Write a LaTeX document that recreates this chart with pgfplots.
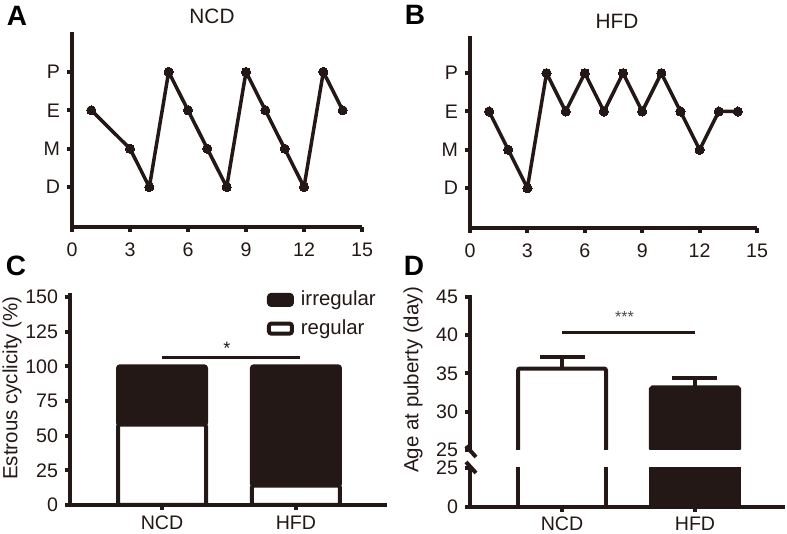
\documentclass[border=0pt]{standalone}
\usepackage{pgfplots}
\pgfplotsset{compat=1.18}
\usepackage{fontspec}
\setmainfont{Liberation Sans}
\definecolor{dk}{RGB}{35,24,21}
\pgfplotsset{
  base/.style={
    scale only axis,
    axis x line*=bottom, axis y line*=left,
    axis line style={line width=2bp, draw=dk, -},
    tick style={line width=2bp, draw=dk},
    tick align=outside,
    major tick length=2.5bp,
    tick label style={font=\fontsize{9.8bp}{11bp}\selectfont, text=dk},
    /pgf/number format/assume math mode=true,
  },
  barst/.style={line width=2bp, draw=dk, rounded corners=1bp,
    legend image code/.code={\draw[line width=2bp, rounded corners=1.2bp, ##1] (0bp,-2.5bp) rectangle (11.5bp,2.5bp);}},
  errst/.style={error bars/.cd, y dir=plus, y explicit,
    error bar style={line width=2bp, draw=dk, rounded corners=0pt},
    error mark options={rotate=90, line width=2bp, draw=dk, mark size=11.25bp}},
}
\begin{document}
\begin{tikzpicture}[x=0.5bp,y=0.5bp]
\path[use as bounding box] (0,0) rectangle (787,534);
\coordinate (pA) at (72,307);
\coordinate (pB) at (470,306);
\coordinate (pC) at (70,29);
\coordinate (pDu) at (470,84);
\coordinate (pDl) at (470,27);
% ---------- A
\begin{axis}[base, at={(pA)}, anchor=south west, width=145bp, height=97.5bp,
  xmin=0, xmax=15, ymin=-0.04, ymax=5.04,
  xticklabel style={yshift=-2bp},
  xtick={0,3,...,15}, ytick={1,2,3,4}, yticklabels={D,M,E,P}]
\addplot[dk, line width=1.75bp, line join=round, mark=*, mark size=2.3bp, mark options={fill=dk, draw=dk, line width=0pt}]
  coordinates {(1,3)(3,2)(4,1)(5,4)(6,3)(7,2)(8,1)(9,4)(10,3)(11,2)(12,1)(13,4)(14,3)};
\end{axis}
% ---------- B
\begin{axis}[base, at={(pB)}, anchor=south west, width=143.5bp, height=96bp,
  xmin=0, xmax=15, ymin=-0.04, ymax=4.97,
  xticklabel style={yshift=-2bp},
  xtick={0,3,...,15}, ytick={1,2,3,4}, yticklabels={D,M,E,P}]
\addplot[dk, line width=1.75bp, line join=round, mark=*, mark size=2.3bp, mark options={fill=dk, draw=dk, line width=0pt}]
  coordinates {(1,3)(2,2)(3,1)(4,4)(5,3)(6,4)(7,3)(8,4)(9,3)(10,4)(11,3)(12,2)(13,3)(14,3)};
\end{axis}
% ---------- C
\begin{axis}[base, at={(pC)}, anchor=south west, width=158.5bp, height=106bp,
  xmin=-0.687, xmax=1.68, ymin=0, ymax=152.9,
  xtick={0,1}, xticklabels={NCD,HFD}, ytick={0,25,...,150},
  xticklabel style={yshift=0.5bp},
  ybar stacked, bar width=0.657,
  reverse legend,
  legend style={draw=none, fill=none, at={(0.62,1.03)}, anchor=north west, inner sep=0pt,
    row sep=1.5bp, /tikz/column sep=1.5bp, font=\fontsize{10.2bp}{12bp}\selectfont, text=dk},
  legend cell align=left]
\addplot[barst, fill=white] coordinates {(0,58) (1,14)};
\addplot[barst, fill=dk] coordinates {(0,42) (1,86)};
\legend{regular, irregular}
\draw[dk, line width=1.5bp] (axis cs:0,106.7) -- (axis cs:1.03,106.7);
\node[text=dk, font=\fontsize{9bp}{10bp}\selectfont] at (axis cs:0.485,113) {*};
\end{axis}
% ---------- D upper
\begin{axis}[base, at={(pDu)}, anchor=south west, width=157.5bp, height=77.5bp,
  xmin=-0.692, xmax=1.677, ymin=25, ymax=45.26,
  axis x line=none, xtick=\empty, ytick={25,30,...,45},
  ybar, bar shift=0pt, bar width=0.662]
% NCD bar: invisible bar carrying the error bar, outline drawn as open line
\addplot[draw=none, fill=none, errst] coordinates {(0,35.65) +- (0,1.55)};
\addplot[sharp plot, dk, line width=2bp, rounded corners=1bp, mark=none]
  coordinates {(-0.331,20) (-0.331,35.65) (0.331,35.65) (0.331,20)};
\addplot[line width=2bp, draw=dk, fill=dk, rounded corners=0.8bp, errst]
  coordinates {(1,33.2) +- (0,1.2)};
\draw[dk, line width=1.6bp] (axis cs:0,40.4) -- (axis cs:1,40.4);
\node[text=dk!80, font=\fontsize{8bp}{9bp}\selectfont] at (axis cs:0.47,42.4) {***};
\end{axis}
% ---------- D lower
\begin{axis}[base, at={(pDl)}, anchor=south west, width=157.5bp, height=19.5bp,
  xmin=-0.692, xmax=1.677, ymin=0, ymax=25,
  xtick={0,1}, xticklabels={NCD,HFD}, ytick={0,25},
  xticklabel style={yshift=1bp},
  ybar, bar shift=0pt, bar width=0.662]
\addplot[line width=2bp, draw=dk, fill=white] coordinates {(0,35.65)};
\addplot[line width=2bp, draw=dk, fill=dk] coordinates {(1,33.2)};
\end{axis}
% break marks
\draw[dk, line width=2bp] (466,534-446) -- (476,534-457);
\draw[dk, line width=2bp] (466,534-462) -- (476,534-473);
% titles, labels, letters
\node[text=dk, font=\fontsize{10.4bp}{12bp}\selectfont] at (212,534-16) {NCD};
\node[text=dk, font=\fontsize{10.4bp}{12bp}\selectfont] at (617,534-21) {HFD};
\node[rotate=90, text=dk, font=\fontsize{10.25bp}{12bp}\selectfont] at (12,534-388) {Estrous cyclicity (\%)};
\node[rotate=90, text=dk, font=\fontsize{10.25bp}{12bp}\selectfont] at (413,534-380) {Age at puberty (day)};
\node[font=\fontsize{14bp}{16bp}\selectfont\bfseries] at (17,534-16) {A};
\node[font=\fontsize{14bp}{16bp}\selectfont\bfseries] at (415,534-15) {B};
\node[font=\fontsize{14bp}{16bp}\selectfont\bfseries] at (16,534-266) {C};
\node[font=\fontsize{14bp}{16bp}\selectfont\bfseries] at (414,534-266) {D};
\end{tikzpicture}
\end{document}
